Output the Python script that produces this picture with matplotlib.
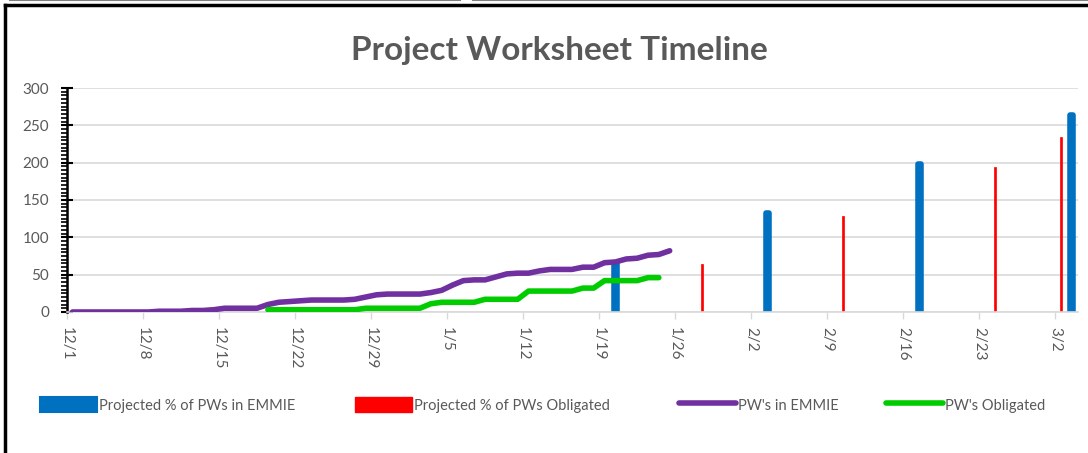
import matplotlib as mpl
import matplotlib.pyplot as plt
from matplotlib.lines import Line2D
from matplotlib.patches import Patch
import matplotlib.dates as mdates
import numpy as np
import pandas as pd

plt.rcParams['font.family'] = ['Lato', 'DejaVu Sans']

# daily counts, 12/1 .. 1/25
emmie_start = '2014-12-01'
pw_emmie = [0, 0, 0, 0, 0, 0, 0, 0, 1, 1, 1, 2, 2, 3, 5, 5, 5, 5, 10, 13,
            14, 15, 16, 16, 16, 16, 17, 20, 23, 24, 24, 24, 24, 26, 29, 36, 42, 43, 43, 47,
            51, 52, 52, 55, 57, 57, 57, 60, 60, 66, 67, 71, 72, 76, 77, 82]
# daily counts, 12/19 .. 1/25
oblig_start = '2014-12-19'
pw_oblig = [3, 3, 3, 3, 3, 3, 3, 3, 3, 5, 5, 5, 5, 5, 5, 11, 13, 13, 13, 13,
            17, 17, 17, 17, 28, 28, 28, 28, 28, 32, 32, 42, 42, 42, 42, 46, 46]

proj_emmie_dates = ['2015-01-20', '2015-02-03', '2015-02-17', '2015-03-03']
proj_emmie = [66, 132, 198, 264]
proj_oblig_dates = ['2015-01-28', '2015-02-10', '2015-02-24', '2015-03-02']
proj_oblig = [64, 129, 194, 235]

tick_dates = pd.date_range('2014-12-01', '2015-03-02', freq='7D')

blue = '#0070c0'
red = '#ff0000'
purple = '#7030a0'
green = '#00cc00'
gray = '#595959'

x_emmie = mdates.date2num(pd.date_range(emmie_start, periods=len(pw_emmie), freq='D'))
x_oblig = mdates.date2num(pd.date_range(oblig_start, periods=len(pw_oblig), freq='D'))
x_pe = mdates.date2num(pd.to_datetime(proj_emmie_dates))
x_po = mdates.date2num(pd.to_datetime(proj_oblig_dates))
x_ticks = mdates.date2num(tick_dates) - 0.5

fig = plt.figure(figsize=(10.88, 4.53), dpi=100)
ax = fig.add_axes([0.0616, 0.3113, 0.9292, 0.4944])

ax.grid(axis='y', color='#d9d9d9', linewidth=1.2, zorder=0)
ax.bar(x_pe, proj_emmie, width=0.3, color=blue, edgecolor=blue, linewidth=4,
       joinstyle='round', zorder=2)
ax.bar(x_po, proj_oblig, width=0.18, color=red, edgecolor=red, linewidth=0.5, zorder=2)
ax.plot(x_emmie, pw_emmie, color=purple, linewidth=4, solid_capstyle='round',
        solid_joinstyle='round', zorder=3)
ax.plot(x_oblig, pw_oblig, color=green, linewidth=4, solid_capstyle='round',
        solid_joinstyle='round', zorder=3)

ax.set_ylim(0, 300)
ax.set_xlim(x_ticks[0], x_ticks[0] + 93.1)
ax.set_yticks(np.arange(0, 301, 50))
ax.set_yticks(np.arange(0, 301, 5), minor=True)
ax.set_xticks(x_ticks)
ax.set_xticklabels([f'{d.month}/{d.day}' for d in tick_dates], rotation=-90,
                   fontsize=11, color=gray)
ax.tick_params(axis='y', which='major', direction='inout', length=8, width=1.5,
               colors='black', labelcolor=gray, labelsize=11, pad=9)
ax.tick_params(axis='y', which='minor', direction='out', length=4, width=1.2, colors='black')
ax.tick_params(axis='x', direction='out', length=5, width=1, colors='#d9d9d9',
               labelcolor=gray, pad=6)
for s in ['top', 'right']:
    ax.spines[s].set_visible(False)
ax.spines['left'].set_linewidth(1.8)
ax.spines['bottom'].set_color('#d9d9d9')
ax.spines['bottom'].set_linewidth(1.2)

fig.text(0.514, 0.888, 'Project Worksheet Timeline', ha='center', va='center',
         fontsize=24, fontweight='bold', color=gray)

handles = [
    Patch(facecolor=blue, edgecolor=blue, linewidth=1.5, joinstyle='round'),
    Patch(facecolor=red, edgecolor=red),
    Line2D([], [], color=purple, linewidth=4, solid_capstyle='round'),
    Line2D([], [], color=green, linewidth=4, solid_capstyle='round'),
]
labels = ['Projected % of PWs in EMMIE', 'Projected % of PWs Obligated',
          "PW's in EMMIE", "PW's Obligated"]
leg_x = [0.037, 0.326, 0.624, 0.814]
for h, lab, lx in zip(handles, labels, leg_x):
    leg = fig.legend([h], [lab], loc='center left', bbox_to_anchor=(lx, 0.106),
                     frameon=False, fontsize=10.5, handlelength=3.9, handleheight=1.2,
                     handletextpad=0.15, borderpad=0, borderaxespad=0, labelcolor=gray)

# outer frame
fig.add_artist(Line2D([0.009, 0.423], [0.999, 0.999], color='#808080', linewidth=1.5))
fig.add_artist(Line2D([0.435, 1.0], [0.999, 0.999], color='#808080', linewidth=1.5))
fig.add_artist(Line2D([0.005, 1.0], [0.99, 0.99], color='black', linewidth=2.5))
fig.add_artist(Line2D([0.005, 0.005], [0.0, 0.99], color='black', linewidth=2.5))

plt.savefig('out.png', dpi=100)
plt.close('all')
